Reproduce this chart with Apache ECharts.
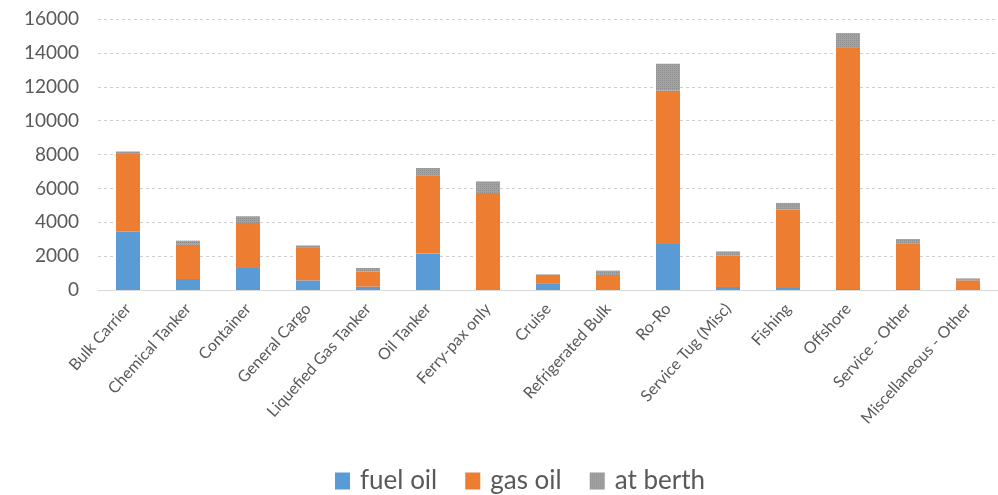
<!DOCTYPE html>
<html>
<head>
<meta charset="utf-8">
<script src="https://cdn.jsdelivr.net/npm/echarts@6/dist/echarts.min.js"></script>
<style>
  html, body { margin: 0; padding: 0; background: #fff; }
  #chart { width: 998px; height: 495px; }
</style>
</head>
<body>
<div id="chart"></div>
<script>
// ship types
const categories = ['Bulk Carrier', 'Chemical Tanker', 'Container', 'General Cargo', 'Liquefied Gas Tanker',
  'Oil Tanker', 'Ferry-pax only', 'Cruise', 'Refrigerated Bulk', 'Ro-Ro', 'Service Tug (Misc)',
  'Fishing', 'Offshore', 'Service - Other', 'Miscellaneous - Other']
const fuelOil = [3450, 650, 1300, 570, 200, 2150, 0, 400, 0, 2720, 180, 120, 60, 60, 0]
const gasOil = [4580, 2020, 2650, 1910, 900, 4620, 5730, 490, 890, 9050, 1840, 4620, 14230, 2660, 570]
const atBerth = [150, 240, 400, 150, 200, 430, 680, 30, 250, 1590, 260, 400, 880, 290, 110]

const chart = echarts.init(document.getElementById('chart'))
const font = 'Lato, "Open Sans", sans-serif'

const option = {
  animation: false,
  textStyle: { fontFamily: font },
  grid: { left: 98, right: 0, top: 19, bottom: 205 },
  legend: {
    top: 463,
    left: 330,
    itemWidth: 15,
    itemHeight: 17,
    itemGap: 28,
    icon: 'rect',
    textStyle: { fontSize: 26, color: '#595959', fontFamily: font, padding: [0, 0, 0, 5] },
    data: ['fuel oil', 'gas oil', 'at berth']
  },
  xAxis: {
    type: 'category',
    data: categories,
    axisTick: { show: false },
    axisLine: { lineStyle: { color: '#d9d9d9' } },
    axisLabel: {
      rotate: 48,
      interval: 0,
      fontSize: 16,
      color: '#595959',
      margin: 16
    }
  },
  yAxis: {
    type: 'value',
    min: 0,
    max: 16000,
    interval: 2000,
    axisLabel: {
      fontSize: 19,
      color: '#595959',
      margin: 19,
      formatter: v => String(v)
    },
    splitLine: { lineStyle: { color: '#cfcfcf', type: [3, 3] } }
  },
  series: [
    {
      name: 'fuel oil',
      type: 'bar',
      stack: 'total',
      barWidth: 24,
      itemStyle: { color: '#5B9BD5' },
      data: fuelOil
    },
    {
      name: 'gas oil',
      type: 'bar',
      stack: 'total',
      barWidth: 24,
      itemStyle: { color: '#ED7D31' },
      data: gasOil
    },
    {
      name: 'at berth',
      type: 'bar',
      stack: 'total',
      barWidth: 24,
      itemStyle: {
        color: '#a3a3a3',
        decal: {
          symbol: 'rect',
          symbolSize: 1,
          dashArrayX: [1, 1],
          dashArrayY: [1, 1],
          color: 'rgba(120,120,120,0.5)',
          rotation: 0
        }
      },
      data: atBerth
    }
  ]
}
chart.setOption(option)
</script>
</body>
</html>
